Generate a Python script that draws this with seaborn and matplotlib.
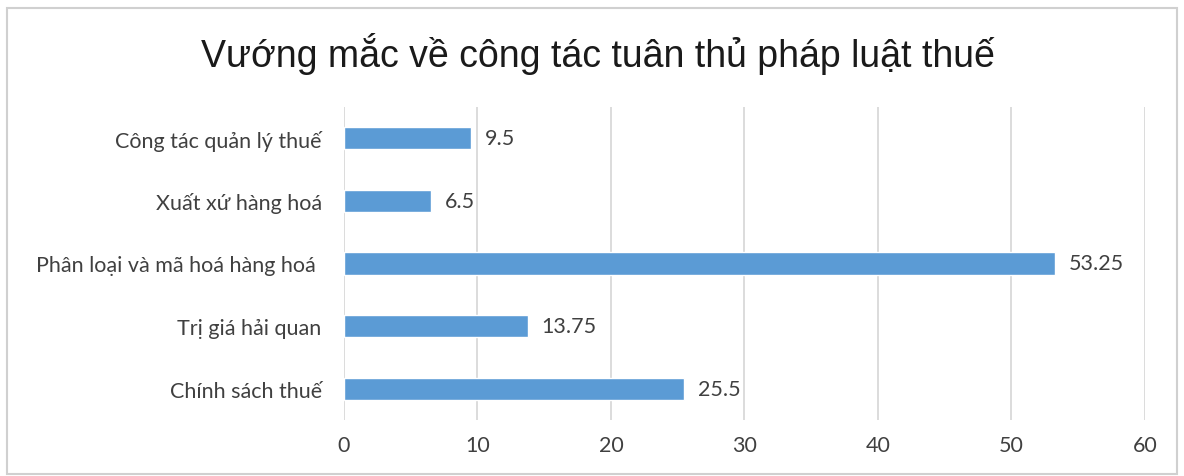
import matplotlib
matplotlib.use("Agg")
import matplotlib.pyplot as plt
from matplotlib.patches import Rectangle
import seaborn as sns
import pandas as pd

categories = [
    "Công tác quản lý thuế",
    "Xuất xứ hàng hoá",
    "Phân loại và mã hoá hàng hoá ",
    "Trị giá hải quan",
    "Chính sách thuế",
]
values = [9.5, 6.5, 53.25, 13.75, 25.5]
value_labels = ["9.5", "6.5", "53.25", "13.75", "25.5"]
x_ticks = [0, 10, 20, 30, 40, 50, 60]
title = "Vướng mắc về công tác tuân thủ pháp luật thuế"

sns.set_theme(style="white")
plt.rcParams["font.family"] = ["Lato", "DejaVu Sans"]

df = pd.DataFrame({"category": categories, "value": values})

fig = plt.figure(figsize=(11.84, 4.77), dpi=100)
ax = fig.add_axes([0.2905, 0.117, 0.6765, 0.657])

sns.barplot(data=df, x="value", y="category", orient="h", color="#5b9bd5",
            saturation=1, width=0.36, ax=ax, zorder=3)

ax.set_xlim(0, 60)
ax.set_ylim(4.5, -0.5)
ax.set_xticks(x_ticks)
ax.set_xticklabels([str(t) for t in x_ticks], fontsize=15.5, color="#404040")
ax.tick_params(axis="y", labelsize=15.5, labelcolor="#404040", length=0, pad=16)
ax.tick_params(axis="x", length=0, pad=11)
ax.set_xlabel("")
ax.set_ylabel("")
ax.xaxis.grid(True, color="#d9d9d9", linewidth=1.3, zorder=0)
ax.yaxis.grid(False)
for s in ax.spines.values():
    s.set_visible(False)

for i, (v, lab) in enumerate(zip(values, value_labels)):
    ax.annotate(lab, xy=(v, i), xytext=(10, 0), textcoords="offset points",
                ha="left", va="center", fontsize=15.5, color="#404040")

fig.text(0.505, 0.886, title, ha="center", va="center", fontsize=27,
         family=["Liberation Sans", "DejaVu Sans"], color="#1a1a1a")

fig.patches.append(Rectangle((7 / 1184, 0.004), 1170 / 1184, 1 - 0.004 - 9 / 477,
                             transform=fig.transFigure, fill=False,
                             edgecolor="#d0d0d0", linewidth=1.5))

fig.savefig("out.png", dpi=100, facecolor="white")
